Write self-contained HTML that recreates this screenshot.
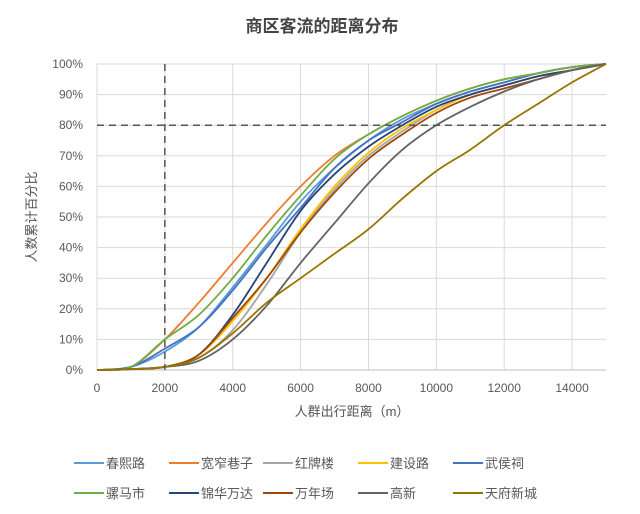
<!DOCTYPE html>
<html><head><meta charset="utf-8">
<style>
body{margin:0;background:#fff;}
svg text{font-family:"Liberation Sans","Noto Sans CJK SC",sans-serif;}
</style></head>
<body>
<svg id="chart" width="640" height="509" viewBox="0 0 640 509" xmlns="http://www.w3.org/2000/svg">
<text x="322" y="32" text-anchor="middle" font-size="17" font-weight="bold" fill="#444">商区客流的距离分布</text>
<g id="grid"></g>
<g id="ylabels"></g>
<g id="xlabels"></g>
<g id="series"></g>
<g id="refs"></g>
<text transform="translate(36,217) rotate(-90)" text-anchor="middle" font-size="13" fill="#555">人数累计百分比</text>
<text x="352" y="416" text-anchor="middle" font-size="13" fill="#555">人群出行距离（m）</text>
<g id="legend"></g>
</svg>
<script>
const xValues=[0,1000,2000,3000,4000,5000,6000,7000,8000,9000,10000,11000,12000,13000,14000,15000];
const seriesNames=["春熙路","宽窄巷子","红牌楼","建设路","武侯祠","骡马市","锦华万达","万年场","高新","天府新城"];
const seriesColors=["#5b9bd5","#ed7d31","#a5a5a5","#ffc000","#4472c4","#70ad47","#264478","#9e480e","#636363","#997300"];
const s_chunxi=[0,1,6,14,27,41,55,66,75,82,87,91,94,97,99,100];
const s_kuanzhai=[0,1,10,22,35,48,60,70,77,83,88,92,95,97,99,100];
const s_hongpai=[0,0.3,1,4,13,28,45,59,70,78,85,90,93,96,98,100];
const s_jianshe=[0,0.3,1,5,16,30,46,60,71,79,85,90,93,96,98,100];
const s_wuhou=[0,1,7,14,26,40,53,66,75,81,87,91,94,97,99,100];
const s_luoma=[0,1,10,18,30,44,57,69,77,83,88,92,95,97,99,100];
const s_jinhua=[0,0.3,1,5,18,35,52,64,73,80,86,90,93,96,98,100];
const s_wannian=[0,0.3,1,5,17,30,45,58,69,77,84,89,92,95,98,100];
const s_gaoxin=[0,0.3,1,3,10,21,35,48,61,72,80,86,91,95,98,100];
const s_tianfu=[0,0.3,1,4,12,22,30,38,46,56,65,72,80,87,94,100];
const seriesData=[s_chunxi,s_kuanzhai,s_hongpai,s_jianshe,s_wuhou,s_luoma,s_jinhua,s_wannian,s_gaoxin,s_tianfu];
const xTicks=[0,2000,4000,6000,8000,10000,12000,14000];
const yTicks=[0,10,20,30,40,50,60,70,80,90,100];
const refX=2000, refY=80;

const X0=97,X1=606,Y0=370,Y1=64;
const xs=v=>X0+(v/15000)*(X1-X0);
const ys=v=>Y0-(v/100)*(Y0-Y1);
const NS="http://www.w3.org/2000/svg";
function mk(tag,attrs,parent){const e=document.createElementNS(NS,tag);for(const k in attrs)e.setAttribute(k,attrs[k]);parent.appendChild(e);return e;}
const grid=document.getElementById('grid'),yl=document.getElementById('ylabels'),xl=document.getElementById('xlabels');
yTicks.forEach(t=>{
  const l=mk('line',{x1:X0,x2:X1,y1:ys(t),y2:ys(t),stroke:'#d9d9d9','stroke-width':1},grid);
  
  
  const tx=mk('text',{x:X0-14,y:ys(t)+4,'text-anchor':'end','font-size':12,fill:'#595959'},yl);
  
  
  tx.textContent=t+'%';
});
xTicks.forEach(t=>{
  const l=mk('line',{x1:xs(t),x2:xs(t),y1:Y1,y2:Y0,stroke:'#d9d9d9','stroke-width':1},grid);
  
  
  const tx=mk('text',{x:xs(t),y:Y0+22,'text-anchor':'middle','font-size':12,fill:'#595959'},xl);
  
  
  tx.textContent=t;
});
const ax=mk('line',{x1:X0,x2:X1,y1:Y0,y2:Y0,stroke:'#bfbfbf','stroke-width':1},grid);


function smooth(pts){let d='M'+pts[0][0]+','+pts[0][1];for(let i=0;i<pts.length-1;i++){const p0=pts[Math.max(i-1,0)],p1=pts[i],p2=pts[i+1],p3=pts[Math.min(i+2,pts.length-1)];
const c1=[p1[0]+(p2[0]-p0[0])/6,p1[1]+(p2[1]-p0[1])/6],c2=[p2[0]-(p3[0]-p1[0])/6,p2[1]-(p3[1]-p1[1])/6];
d+=' C'+c1[0].toFixed(1)+','+c1[1].toFixed(1)+' '+c2[0].toFixed(1)+','+c2[1].toFixed(1)+' '+p2[0].toFixed(1)+','+p2[1].toFixed(1);}return d;}
const sg=document.getElementById('series');
seriesData.forEach((arr,i)=>{
  const p=mk('path',{d:smooth(arr.map((v,j)=>[xs(xValues[j]),ys(v)])),fill:'none',stroke:seriesColors[i],'stroke-width':1.8},sg);
  
  
});
const rg=document.getElementById('refs');
const rv=mk('line',{x1:xs(refX),x2:xs(refX),y1:Y1,y2:Y0,stroke:'#555','stroke-width':1.5,'stroke-dasharray':'7,5'},rg);


const rh=mk('line',{x1:X0,x2:X1,y1:ys(refY),y2:ys(refY),stroke:'#555','stroke-width':1.5,'stroke-dasharray':'7,5'},rg);


const lg=document.getElementById('legend');
const colX=[87,182,276,371,466],rowY=[463,493];
seriesNames.forEach((n,i)=>{
  const x=colX[i%5],y=rowY[Math.floor(i/5)];
  const g=mk('g',{},lg);
  
  
  mk('line',{x1:x-13,x2:x+17,y1:y,y2:y,stroke:seriesColors[i],'stroke-width':2},g);
  const t=mk('text',{x:x+19,y:y+5,'font-size':13,fill:'#595959'},g);
  t.textContent=n;
});
</script>
</body></html>
